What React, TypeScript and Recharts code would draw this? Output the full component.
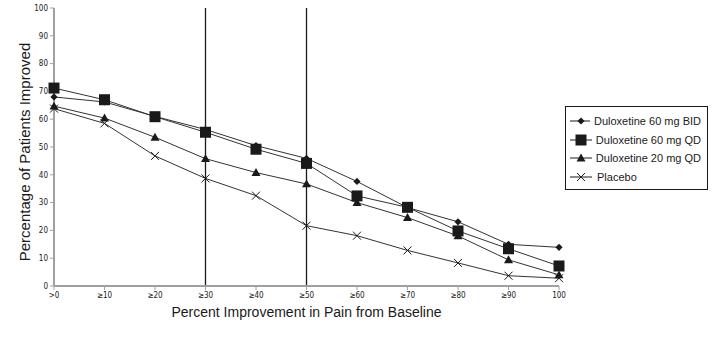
import { CartesianGrid, Line, LineChart, ReferenceLine, XAxis, YAxis } from "recharts";

const categories = [">0", "≥10", "≥20", "≥30", "≥40", "≥50", "≥60", "≥70", "≥80", "≥90", "100"];
const bid60 = [68, 66.2, 61, 56.3, 50.5, 45.9, 37.6, 28.2, 23.1, 15, 13.9];
const qd60 = [71.2, 67, 60.9, 55.3, 49.2, 44.1, 32.4, 28.3, 19.8, 13.4, 7.2];
const qd20 = [64.7, 60.4, 53.5, 45.8, 40.8, 36.7, 30, 24.6, 18, 9.4, 4];
const placebo = [63.8, 58.5, 46.8, 38.7, 32.5, 21.7, 18.1, 12.8, 8.3, 3.7, 2.8];
const yTicks = [0, 10, 20, 30, 40, 50, 60, 70, 80, 90, 100];
const markerLines = ["≥30", "≥50"];

const data = categories.map((cat, i) => ({
  cat,
  bid60: bid60[i],
  qd60: qd60[i],
  qd20: qd20[i],
  placebo: placebo[i],
}));

const series = [
  { key: "bid60", name: "Duloxetine 60 mg BID", shape: "diamond" },
  { key: "qd60", name: "Duloxetine 60 mg QD", shape: "square" },
  { key: "qd20", name: "Duloxetine 20 mg QD", shape: "triangle" },
  { key: "placebo", name: "Placebo", shape: "cross" },
];

const INK = "#1a1a1a";
const AXIS = "#a0a0a0";
const FONT = "'Liberation Sans', Arial, sans-serif";
const TICK_FONT = "'Liberation Sans Narrow', 'DejaVu Sans Condensed', 'Liberation Sans', sans-serif";

const Marker = ({ shape, cx, cy }: { shape: string; cx: number; cy: number }) => {
  if (cx == null || cy == null) return null;
  if (shape === "diamond") {
    const r = 3.6;
    return <polygon points={`${cx},${cy - r} ${cx + r},${cy} ${cx},${cy + r} ${cx - r},${cy}`} fill={INK} />;
  }
  if (shape === "square") {
    const s = 5.5;
    return <rect x={cx - s} y={cy - s} width={s * 2} height={s * 2} fill={INK} />;
  }
  if (shape === "triangle") {
    const r = 4.5;
    return <polygon points={`${cx},${cy - r} ${cx + r},${cy + r * 0.75} ${cx - r},${cy + r * 0.75}`} fill={INK} />;
  }
  const r = 4;
  return (
    <g stroke={INK} strokeWidth={1}>
      <line x1={cx - r} y1={cy - r} x2={cx + r} y2={cy + r} />
      <line x1={cx - r} y1={cy + r} x2={cx + r} y2={cy - r} />
    </g>
  );
};

const LegendBox = () => (
  <div
    style={{
      position: "absolute",
      left: 565,
      top: 106,
      width: 132,
      height: 72,
      border: `1px solid ${INK}`,
      padding: "5px 6px 5px 3px",
      fontFamily: FONT,
      fontSize: 11,
      color: INK,
      background: "#fff",
      whiteSpace: "nowrap",
    }}
  >
    {series.map((s) => (
      <div key={s.key} style={{ display: "flex", alignItems: "center", height: 18.5 }}>
        <svg width={24} height={14} style={{ marginRight: 4 }}>
          <line x1={1} y1={7} x2={23} y2={7} stroke={INK} strokeWidth={1} />
          <Marker shape={s.shape} cx={12} cy={7} />
        </svg>
        <span>{s.name}</span>
      </div>
    ))}
  </div>
);

export default function App() {
  return (
    <div style={{ position: "absolute", left: 0, top: 0, width: 719, height: 337, background: "#fff" }}>
      <LineChart width={719} height={337} data={data} margin={{ top: 8, right: 160, bottom: 0, left: 0 }}>
        <CartesianGrid horizontal={false} vertical={false} />
        <XAxis
          dataKey="cat"
          scale="point"
          padding={{ left: 0, right: 0 }}
          interval={0}
          stroke={AXIS}
          strokeWidth={2}
          tickSize={4}
          tick={{ fontSize: 8, fill: INK, fontFamily: TICK_FONT }}
          tickLine={{ stroke: AXIS, strokeWidth: 1 }}
          label={{
            value: "Percent Improvement in Pain from Baseline",
            position: "insideBottom",
            offset: 20,
            fontSize: 14,
            fill: INK,
            fontFamily: FONT,
          }}
          height={51}
        />
        <XAxis xAxisId="top" dataKey="cat" orientation="top" scale="point" tick={false} tickLine={false} stroke={AXIS} strokeWidth={2} height={0} />
        <YAxis
          domain={[0, 100]}
          ticks={yTicks}
          interval={0}
          width={54}
          stroke={AXIS}
          strokeWidth={2}
          tickSize={4}
          tick={{ fontSize: 8, fill: INK, fontFamily: TICK_FONT }}
          tickLine={{ stroke: AXIS, strokeWidth: 1 }}
          label={{
            value: "Percentage of Patients Improved",
            angle: -90,
            position: "insideLeft",
            offset: 25,
            dx: 0,
            dy: 5,
            style: { textAnchor: "middle" },
            fontSize: 15,
            fill: INK,
            fontFamily: FONT,
          }}
        />
        <YAxis yAxisId="right" orientation="right" domain={[0, 100]} tick={false} tickLine={false} stroke={AXIS} strokeWidth={2} width={0} />
        {markerLines.map((x) => (
          <ReferenceLine key={x} x={x} stroke={INK} strokeWidth={1.3} />
        ))}
        {series.map((s) => (
          <Line
            key={s.key}
            type="linear"
            dataKey={s.key}
            name={s.name}
            stroke="#333"
            strokeWidth={1}
            dot={(props: any) => <Marker key={`${s.key}-${props.index}`} shape={s.shape} cx={props.cx} cy={props.cy} />}
            activeDot={false}
            isAnimationActive={false}
          />
        ))}
      </LineChart>
      <LegendBox />
    </div>
  );
}
